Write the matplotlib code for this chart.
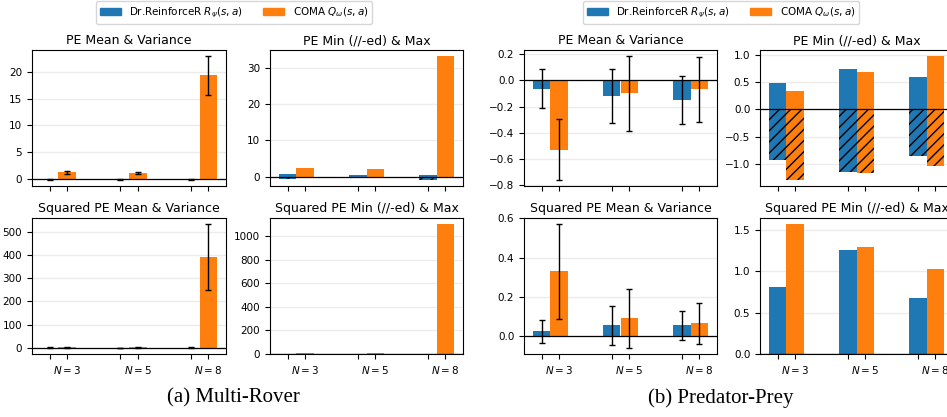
import numpy as np
import matplotlib.pyplot as plt
from matplotlib.patches import Patch

# group labels
ns = [3, 5, 8]
tick_labels = ['$N=%d$' % n for n in ns]

# (a) Multi-Rover
mr_pe_mean_dr = [-0.05, -0.04, -0.06]
mr_pe_std_dr = [0.08, 0.07, 0.09]
mr_pe_mean_coma = [1.3, 1.1, 19.3]
mr_pe_std_coma = [0.28, 0.24, 3.6]
mr_pe_min_dr = [-0.55, -0.4, -0.9]
mr_pe_max_dr = [0.74, 0.55, 0.45]
mr_pe_min_coma = [0.9, 0.7, 7.3]
mr_pe_max_coma = [2.47, 2.1, 33.2]
mr_sq_mean_dr = [0.4, 0.3, 0.5]
mr_sq_std_dr = [0.8, 0.6, 0.9]
mr_sq_mean_coma = [2.5, 1.8, 391]
mr_sq_std_coma = [2.0, 1.5, 141]
mr_sq_min_dr = [0.001, 0.001, 0.002]
mr_sq_max_dr = [0.55, 0.3, 0.8]
mr_sq_min_coma = [0.8, 0.5, 54]
mr_sq_max_coma = [6.1, 4.4, 1102]

# (b) Predator-Prey
pp_pe_mean_dr = [-0.063, -0.116, -0.152]
pp_pe_std_dr = [0.15, 0.205, 0.183]
pp_pe_mean_coma = [-0.527, -0.099, -0.068]
pp_pe_std_coma = [0.23, 0.284, 0.246]
pp_pe_min_dr = [-0.916, -1.134, -0.849]
pp_pe_max_dr = [0.49, 0.745, 0.587]
pp_pe_min_coma = [-1.28, -1.153, -1.025]
pp_pe_max_coma = [0.345, 0.69, 0.97]
pp_sq_mean_dr = [0.026, 0.056, 0.056]
pp_sq_std_dr = [0.058, 0.1, 0.073]
pp_sq_mean_coma = [0.331, 0.092, 0.066]
pp_sq_std_coma = [0.24, 0.15, 0.103]
pp_sq_min_dr = [0.001, 0.002, 0.001]
pp_sq_max_dr = [0.807, 1.259, 0.672]
pp_sq_min_coma = [0.002, 0.001, 0.003]
pp_sq_max_coma = [1.565, 1.296, 1.027]

blue = '#1f77b4'
orange = '#ff7f0e'
w = 0.25
x = np.arange(len(ns))

W, H = 947, 417
fig = plt.figure(figsize=(W / 100, H / 100), dpi=100)


def make_ax(l, t, r, b):
    return fig.add_axes([l / W, 1 - b / H, (r - l) / W, (b - t) / H])


def finish(ax, title, labelled):
    ax.axhline(0, color='k', lw=0.9, zorder=3)
    ax.yaxis.grid(True, color='#ececec', lw=1)
    ax.set_axisbelow(True)
    ax.set_title(title, fontsize=9, pad=4)
    ax.set_xticks(np.concatenate([x, x + w]))
    if labelled:
        ax.set_xticklabels([''] * len(ns) + tick_labels)
    else:
        ax.set_xticklabels([''] * (2 * len(ns)))
    ax.tick_params(labelsize=7.5)


def mean_var(ax, m1, s1, m2, s2, title, labelled):
    ek = dict(ecolor='k', capsize=2, error_kw=dict(elinewidth=1, capthick=1))
    ax.bar(x, m1, w, yerr=s1, color=blue, **ek)
    ax.bar(x + w, m2, w, yerr=s2, color=orange, **ek)
    finish(ax, title, labelled)


def min_max(ax, lo1, hi1, lo2, hi2, title, labelled):
    ax.bar(x, lo1, w, color=blue, hatch='///', edgecolor='k', lw=0)
    ax.bar(x + w, lo2, w, color=orange, hatch='///', edgecolor='k', lw=0)
    ax.bar(x, hi1, w, color=blue)
    ax.bar(x + w, hi2, w, color=orange)
    finish(ax, title, labelled)


# (a) Multi-Rover
mean_var(make_ax(32, 50, 226, 186), mr_pe_mean_dr, mr_pe_std_dr,
         mr_pe_mean_coma, mr_pe_std_coma, 'PE Mean & Variance', False)
min_max(make_ax(270, 50, 463, 186), mr_pe_min_dr, mr_pe_max_dr,
        mr_pe_min_coma, mr_pe_max_coma, 'PE Min (//-ed) & Max', False)
mean_var(make_ax(32, 218, 226, 354), mr_sq_mean_dr, mr_sq_std_dr,
         mr_sq_mean_coma, mr_sq_std_coma, 'Squared PE Mean & Variance', True)
min_max(make_ax(270, 218, 463, 354), mr_sq_min_dr, mr_sq_max_dr,
        mr_sq_min_coma, mr_sq_max_coma, 'Squared PE Min (//-ed) & Max', True)

# (b) Predator-Prey
mean_var(make_ax(524, 50, 717, 186), pp_pe_mean_dr, pp_pe_std_dr,
         pp_pe_mean_coma, pp_pe_std_coma, 'PE Mean & Variance', False)
min_max(make_ax(760, 50, 953, 186), pp_pe_min_dr, pp_pe_max_dr,
        pp_pe_min_coma, pp_pe_max_coma, 'PE Min (//-ed) & Max', False)
mean_var(make_ax(524, 218, 717, 354), pp_sq_mean_dr, pp_sq_std_dr,
         pp_sq_mean_coma, pp_sq_std_coma, 'Squared PE Mean & Variance', True)
min_max(make_ax(760, 218, 953, 354), pp_sq_min_dr, pp_sq_max_dr,
        pp_sq_min_coma, pp_sq_max_coma, 'Squared PE Min (//-ed) & Max', True)

handles = [Patch(color=blue), Patch(color=orange)]
names = [r'Dr.ReinforceR $R_\psi(s,a)$', r'COMA $Q_\omega(s,a)$']
for cx in (234, 721):
    fig.legend(handles, names, loc='center', bbox_to_anchor=(cx / W, 1 - 12.5 / H),
               ncol=2, fontsize=7.5)

fig.text(233 / W, 1 - 398 / H, '(a) Multi-Rover', family='Liberation Serif',
         fontsize=15, ha='center', va='center')
fig.text(721 / W, 1 - 398 / H, '(b) Predator-Prey', family='Liberation Serif',
         fontsize=15, ha='center', va='center')

fig.savefig('out.png', dpi=100)
